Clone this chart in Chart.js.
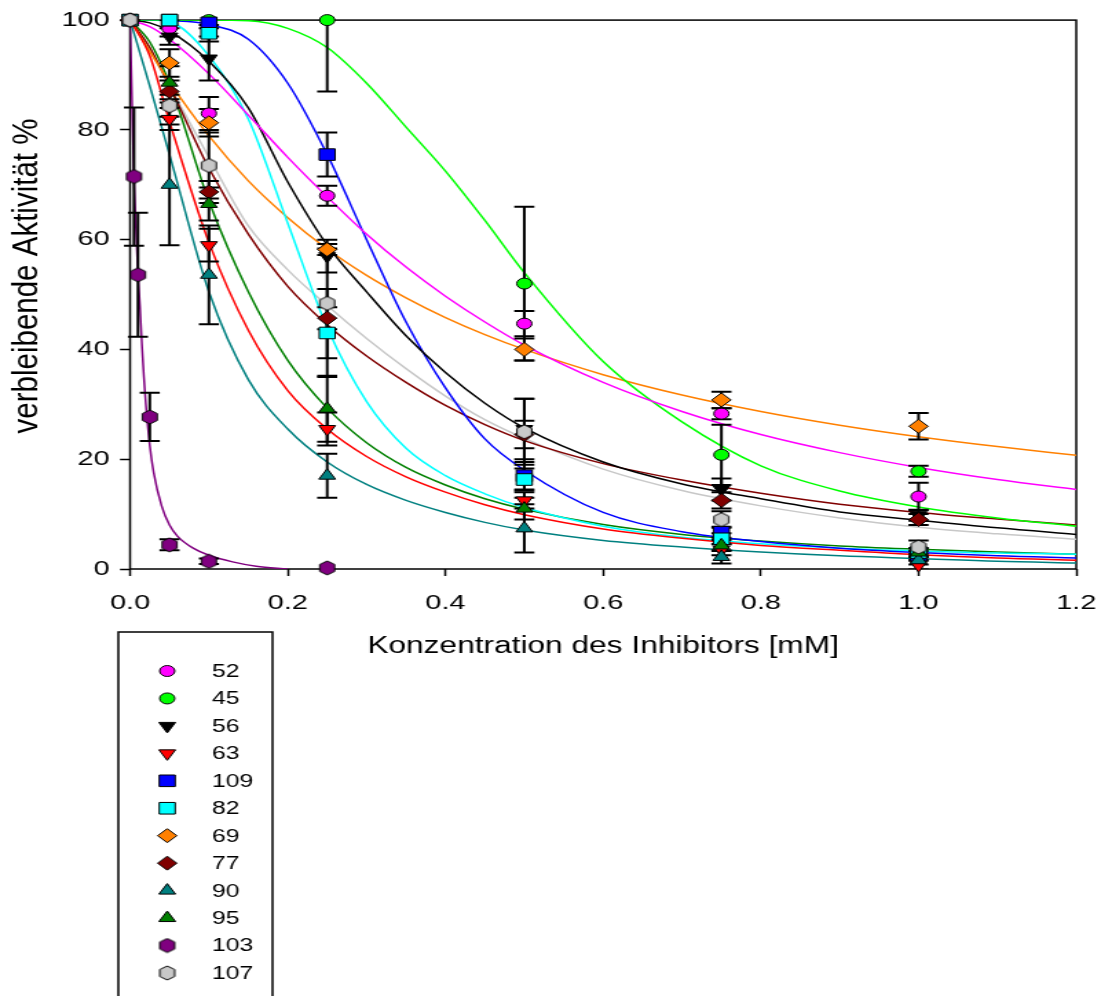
<!DOCTYPE html>
<html>
<head>
<meta charset="utf-8">
<script src="https://cdn.jsdelivr.net/npm/chart.js"></script>
<style>
  html, body { margin: 0; padding: 0; background: #fff; }
</style>
</head>
<body>
<!-- the reference is horizontally stretched, so the canvas is drawn narrow and widened by CSS -->
<canvas id="c" width="800" height="996" style="display:block;width:1101px;height:996px"></canvas>
<script>
// measured points
const ptX = [0, 0.05, 0.1, 0.25, 0.5, 0.75, 1.0];
const ptX103 = [0, 0.005, 0.01, 0.025, 0.05, 0.1, 0.25];

const y52 = [100, 98.5, 83, 68, 44.7, 28.3, 13.2];
const y45 = [100, 100, 100, 100, 52, 20.8, 17.8];
const y56 = [100, 97, 93, 57, 25.5, 14.5, 9.8];
const y63 = [100, 82, 59, 25.5, 12.5, 3.5, 0.7];
const y109 = [100, 100, 99.5, 75.5, 17, 6.7, 2.5];
const y82 = [100, 100, 97.6, 43, 16.3, 5.5, 3];
const y69 = [100, 92.2, 81.3, 58.2, 40, 30.8, 26];
const y77 = [100, 87, 68.7, 45.7, 24.5, 12.5, 9];
const y90 = [100, 70, 53.6, 17, 7.4, 2.2, 1.6];
const y95 = [100, 88.6, 66.5, 29.2, 11, 4.3, 3];
const y103 = [100, 71.5, 53.6, 27.7, 4.4, 1.4, 0.2];
const y107 = [100, 84.4, 73.5, 48.4, 25, 9, 4];

// error bars (+/-)
const e52 = [0, 1.5, 3, 1.8, 2.3, 1, 2.5];
const e45 = [0, 0, 0, 13, 14, 5.5, 1];
const e56 = [0, 1.5, 4, 3, 5.5, 2, 1];
const e63 = [0, 2, 3, 3, 1.5, 1, 0.8];
const e109 = [0, 0, 1, 4, 2.5, 1, 0.8];
const e82 = [0, 0, 1.5, 8, 2, 1, 0.8];
const e69 = [0, 2.5, 2.5, 1, 2, 1.5, 2.4];
const e77 = [0, 2, 2, 2, 2.5, 1.5, 1];
const e90 = [0, 11, 9, 4, 4.4, 1.2, 0.8];
const e95 = [0, 3, 3, 6, 2, 1, 0.8];
const e103 = [0, 12.6, 11.3, 4.4, 1, 0.5, 0];
const e107 = [0, 2, 6, 10, 6, 1.5, 1.2];

// fitted curves
const fitX = [0, 0.025, 0.05, 0.1, 0.15, 0.2, 0.25, 0.3, 0.35, 0.4, 0.45, 0.5, 0.6, 0.7, 0.8, 0.9, 1.0, 1.1, 1.2];
const f52 = [100, 98.8, 96.5, 90.2, 82.7, 75.0, 67.8, 61.0, 55.0, 49.7, 45.0, 40.8, 34.0, 28.7, 24.5, 21.2, 18.5, 16.3, 14.5];
const f45 = [100, 100, 100, 100, 99.9, 98.5, 95, 88.5, 80.5, 72.5, 63.5, 54, 37.8, 26.8, 18.8, 14.2, 11.3, 9.3, 7.8];
const f56 = [100, 99.5, 98, 92.5, 84, 70.5, 59, 50.5, 42.5, 35.8, 30.2, 25.7, 19.5, 15.5, 12.8, 10.4, 8.9, 7.5, 6.3];
const f63 = [100, 93.5, 81.5, 59.5, 43.5, 32.5, 25.5, 20.5, 16.8, 14, 11.7, 9.9, 7.3, 5.6, 4.3, 3.4, 2.6, 2.0, 1.6];
const f109 = [100, 100, 99.9, 99.2, 96.5, 88.5, 75.5, 60, 45, 33, 23.7, 18, 10.3, 6.8, 5.0, 3.8, 3.0, 2.4, 2.0];
const f82 = [100, 100, 99.7, 93.5, 82, 63, 44, 30.5, 22, 17, 13.7, 11.2, 7.8, 5.8, 4.6, 3.8, 3.3, 2.9, 2.7];
const f69 = [100, 94.3, 88.7, 78.9, 70.7, 64.0, 58.3, 53.5, 49.4, 45.8, 42.7, 40.0, 35.4, 31.7, 28.7, 26.2, 24.1, 22.3, 20.7];
const f77 = [100, 95, 88, 73, 61, 51.5, 44.5, 38.8, 34, 29.8, 26.3, 23.4, 19.2, 16.2, 13.8, 11.8, 10.3, 9.1, 8.0];
const f90 = [100, 88, 75.5, 50.5, 34.5, 25.5, 19.5, 15.4, 12.5, 10.3, 8.5, 7.1, 5.2, 4.0, 3.1, 2.4, 1.9, 1.4, 1.1];
const f95 = [100, 96, 88.5, 67, 50.5, 38, 29.3, 23, 18.5, 15.3, 12.8, 10.9, 8.1, 6.3, 5.1, 4.2, 3.6, 3.1, 2.7];
const f107 = [100, 94.5, 88, 75, 62.5, 54.5, 48, 42, 36.5, 31.5, 27.2, 23.8, 18.2, 14.3, 11.5, 9.3, 7.6, 6.4, 5.4];
const fitX103 = [0, 0.0025, 0.005, 0.0075, 0.01, 0.0125, 0.015, 0.0175, 0.02, 0.025, 0.03, 0.04, 0.05, 0.06, 0.08, 0.1, 0.13, 0.16, 0.2];
const f103 = [100, 85, 71, 62, 54, 48, 41, 35, 30, 22.5, 17.5, 11.5, 8, 6, 3.8, 2.5, 1.3, 0.5, 0];

const xTicks = [0, 0.2, 0.4, 0.6, 0.8, 1.0, 1.2];
const yTicks = [0, 20, 40, 60, 80, 100];
const yTitle = 'verbleibende Aktivität %';

const FONT = '"Liberation Sans", Arial, sans-serif';
Chart.defaults.font.family = FONT;
Chart.defaults.color = '#000';

// pointy-top hexagon marker, the library has none
function hexagon(fill) {
  const c = document.createElement('canvas');
  c.width = 14; c.height = 16;
  const g = c.getContext('2d');
  g.beginPath();
  for (let k = 0; k < 6; k++) {
    const a = Math.PI / 2 + k * Math.PI / 3;
    const px = 7 + Math.cos(a) * 6.2;
    const py = 8 - Math.sin(a) * 7;
    if (k === 0) g.moveTo(px, py); else g.lineTo(px, py);
  }
  g.closePath();
  g.fillStyle = fill; g.fill();
  g.lineWidth = 1; g.strokeStyle = '#000'; g.stroke();
  return c;
}

const series = [
  { label: '52', x: ptX, y: y52, err: e52, fx: fitX, fy: f52, color: '#ff00ff', style: 'circle', r: 5.5 },
  { label: '45', x: ptX, y: y45, err: e45, fx: fitX, fy: f45, color: '#00ff00', style: 'circle', r: 5.5 },
  { label: '56', x: ptX, y: y56, err: e56, fx: fitX, fy: f56, color: '#000000', style: 'triangle', rot: 180, r: 7 },
  { label: '63', x: ptX, y: y63, err: e63, fx: fitX, fy: f63, color: '#ff0000', style: 'triangle', rot: 180, r: 7 },
  { label: '109', x: ptX, y: y109, err: e109, fx: fitX, fy: f109, color: '#0000ff', style: 'rect', r: 8.2 },
  { label: '82', x: ptX, y: y82, err: e82, fx: fitX, fy: f82, color: '#00ffff', style: 'rect', r: 8.2 },
  { label: '69', x: ptX, y: y69, err: e69, fx: fitX, fy: f69, color: '#ff8000', style: 'rectRot', r: 7 },
  { label: '77', x: ptX, y: y77, err: e77, fx: fitX, fy: f77, color: '#800000', style: 'rectRot', r: 7 },
  { label: '90', x: ptX, y: y90, err: e90, fx: fitX, fy: f90, color: '#008080', style: 'triangle', r: 7 },
  { label: '95', x: ptX, y: y95, err: e95, fx: fitX, fy: f95, color: '#008000', style: 'triangle', r: 7 },
  { label: '103', x: ptX103, y: y103, err: e103, fx: fitX103, fy: f103, color: '#800080', style: 'hex', r: 7 },
  { label: '107', x: ptX, y: y107, err: e107, fx: fitX, fy: f107, color: '#c8c8c8', style: 'hex', r: 7 },
];

const pointSets = series.map((s, i) => ({
  label: s.label,
  isPoints: true,
  errors: s.err,
  data: s.x.map((xv, j) => ({ x: xv, y: s.y[j] })),
  showLine: false,
  pointStyle: s.style === 'hex' ? hexagon(s.color) : s.style,
  rotation: s.rot || 0,
  pointRadius: s.r,
  pointBackgroundColor: s.color,
  pointBorderColor: '#000',
  pointBorderWidth: 1,
  backgroundColor: s.color,
  clip: false,
  order: -i,
}));

const curveSets = series.map((s) => ({
  label: s.label + ' fit',
  data: s.fx.map((xv, j) => ({ x: xv, y: s.fy[j] })),
  showLine: true,
  borderColor: s.color,
  borderWidth: 1.5,
  pointRadius: 0,
  cubicInterpolationMode: 'monotone',
  order: 100,
}));

// frame round the plot area
const frame = {
  id: 'frame',
  beforeDatasetsDraw(chart) {
    const { ctx, chartArea: a } = chart;
    ctx.save();
    ctx.strokeStyle = '#000';
    ctx.lineWidth = 1.5;
    ctx.strokeRect(a.left, a.top, a.right - a.left, a.bottom - a.top);
    ctx.restore();
  },
};

// y title sits a bit above the middle and is narrower than the rest
const sideTitle = {
  id: 'sideTitle',
  afterDraw(chart) {
    const ctx = chart.ctx;
    ctx.save();
    ctx.translate(20, 276);
    ctx.scale(0.85, 1);
    ctx.rotate(-Math.PI / 2);
    ctx.font = '29.5px ' + FONT;
    ctx.fillStyle = '#000';
    ctx.textAlign = 'center';
    ctx.textBaseline = 'middle';
    ctx.fillText(yTitle, 0, 0);
    ctx.restore();
  },
};

// error bars go under the markers, over the curves
const errorBars = {
  id: 'errorBars',
  beforeDatasetDraw(chart, args) {
    if (args.index !== 0) return;
    const { ctx, chartArea: a, scales: { x, y } } = chart;
    ctx.save();
    ctx.beginPath();
    ctx.rect(a.left - 10, a.top, a.right - a.left + 20, a.bottom - a.top);
    ctx.clip();
    ctx.strokeStyle = '#000';
    ctx.lineWidth = 2;
    chart.data.datasets.forEach((ds) => {
      if (!ds.isPoints) return;
      ds.data.forEach((p, j) => {
        const e = ds.errors[j];
        if (!e) return;
        const px = x.getPixelForValue(p.x);
        const top = y.getPixelForValue(p.y + e);
        const bot = y.getPixelForValue(p.y - e);
        ctx.beginPath();
        ctx.moveTo(px, top); ctx.lineTo(px, bot);
        ctx.moveTo(px - 7.3, top); ctx.lineTo(px + 7.3, top);
        ctx.moveTo(px - 7.3, bot); ctx.lineTo(px + 7.3, bot);
        ctx.stroke();
      });
    });
    ctx.restore();
  },
};

// boxed legend under the plot
const boxLegend = {
  id: 'boxLegend',
  afterDraw(chart) {
    const ctx = chart.ctx;
    ctx.save();
    ctx.strokeStyle = '#000';
    ctx.lineWidth = 1.5;
    ctx.strokeRect(86, 632, 112, 420);
    ctx.font = '18px ' + FONT;
    ctx.textBaseline = 'middle';
    ctx.textAlign = 'left';
    chart.data.datasets.filter((d) => d.isPoints).forEach((ds, i) => {
      const cy = 671 + i * 27.45;
      ctx.fillStyle = ds.backgroundColor;
      ctx.strokeStyle = '#000';
      ctx.lineWidth = 1;
      Chart.helpers.drawPoint(ctx, {
        pointStyle: ds.pointStyle, rotation: ds.rotation, radius: ds.pointRadius, borderWidth: 1,
      }, 121.5, cy);
      ctx.fillStyle = '#000';
      ctx.fillText(ds.label, 154, cy + 1);
    });
    ctx.restore();
  },
};

new Chart(document.getElementById('c'), {
  type: 'scatter',
  data: { datasets: [...pointSets, ...curveSets] },
  options: {
    responsive: false,
    devicePixelRatio: 1,
    animation: false,
    layout: { padding: { left: 0, right: 18, top: 17, bottom: 336 } },
    plugins: { legend: { display: false }, tooltip: { enabled: false } },
    scales: {
      x: {
        type: 'linear',
        min: 0,
        max: 1.2,
        afterBuildTicks: (s) => { s.ticks = xTicks.map((v) => ({ value: v })); },
        afterFit: (s) => { s.height = 91; s.paddingLeft = 0; s.paddingRight = 0; },
        ticks: {
          font: { size: 21 },
          padding: 15,
          maxRotation: 0,
          callback: (v) => Number(v).toFixed(1),
        },
        grid: { drawOnChartArea: false, drawTicks: true, tickLength: 7, tickColor: '#000', tickWidth: 1.5 },
        border: { display: false },
        title: {
          display: true,
          text: 'Konzentration des Inhibitors [mM]',
          font: { size: 23 },
          padding: { top: 0, bottom: 0 },
        },
      },
      y: {
        min: 0,
        max: 100,
        afterBuildTicks: (s) => { s.ticks = yTicks.map((v) => ({ value: v })); },
        afterFit: (s) => { s.width = 94.5; },
        ticks: { font: { size: 21 }, padding: 7.5 },
        grid: { drawOnChartArea: false, drawTicks: true, tickLength: 7.3, tickColor: '#000', tickWidth: 1.5 },
        border: { display: false },
        title: { display: false },
      },
    },
  },
  plugins: [frame, errorBars, boxLegend, sideTitle],
});
</script>
</body>
</html>
